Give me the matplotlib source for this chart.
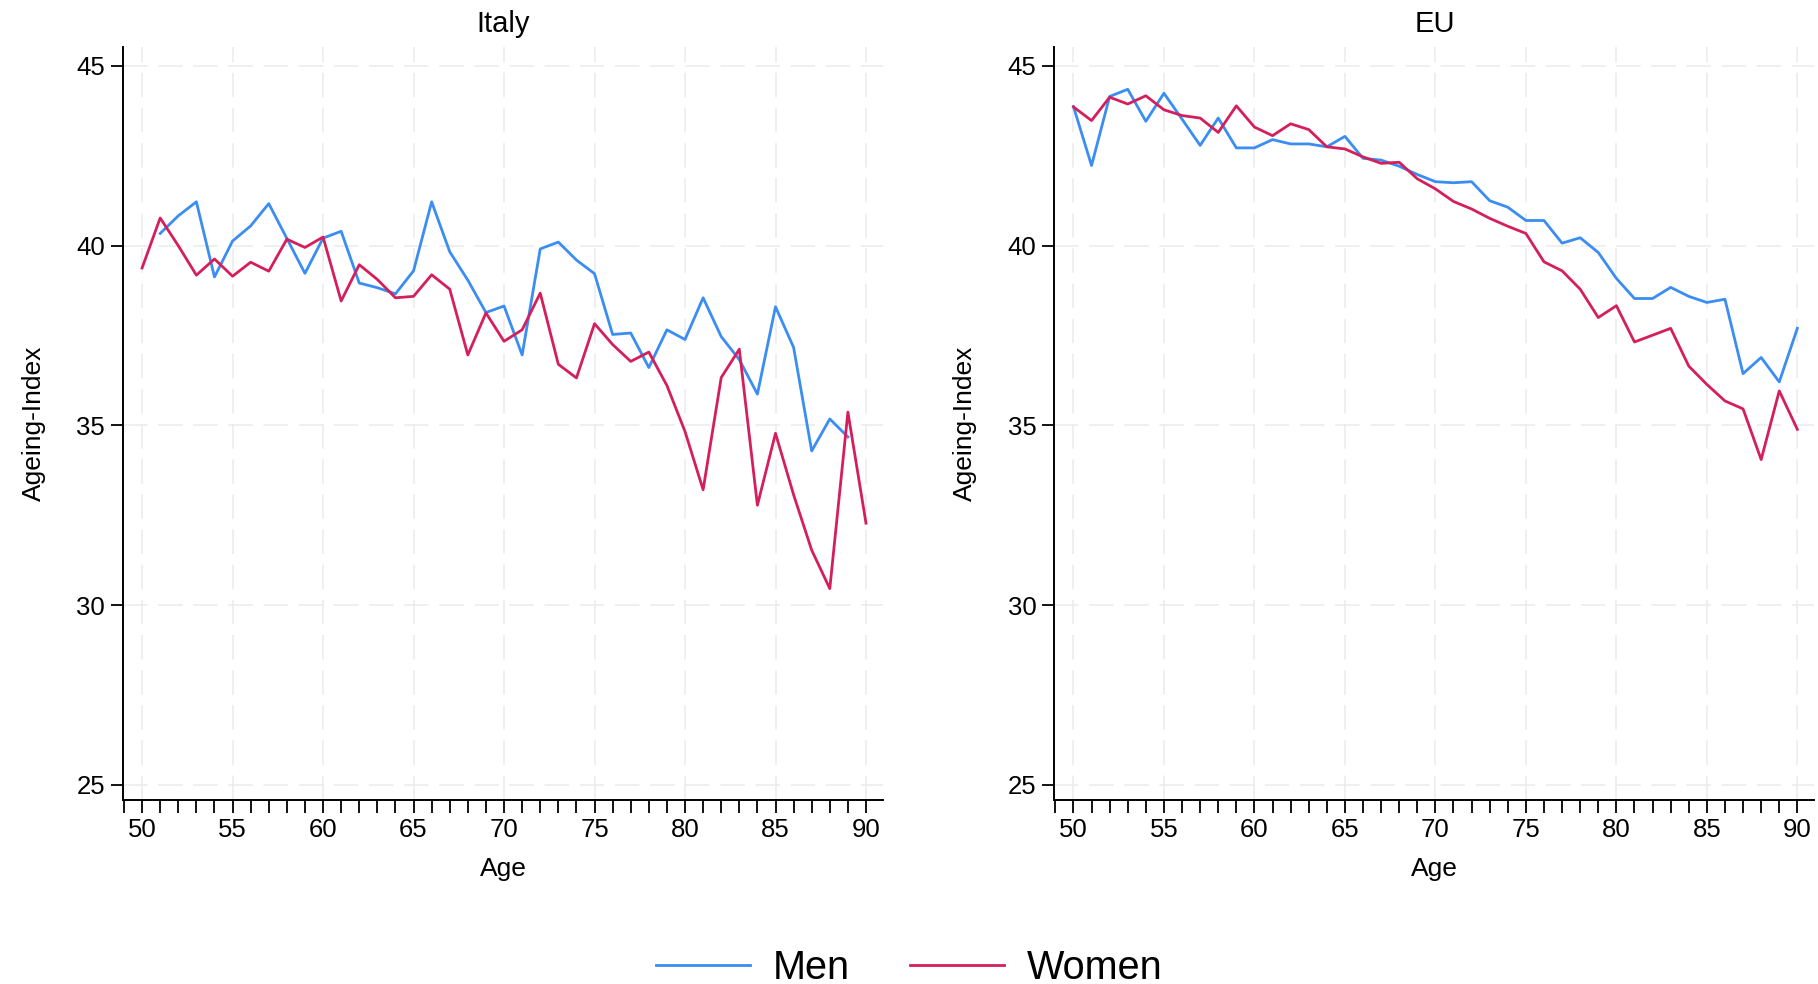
import numpy as np
import matplotlib
matplotlib.use("Agg")
import matplotlib.pyplot as plt
from matplotlib.ticker import MultipleLocator

plt.rcParams['font.family'] = ['Liberation Sans', 'DejaVu Sans']

ages = list(range(50, 91))

italy_men = [np.nan, 40.34, 40.83, 41.22, 39.13, 40.13, 40.55, 41.17, 40.20, 39.23,
             40.21, 40.40, 38.96, 38.83, 38.66, 39.30, 41.22, 39.83, 39.04, 38.14,
             38.32, 36.96, 39.91, 40.10, 39.60, 39.22, 37.53, 37.57, 36.61, 37.66,
             37.39, 38.55, 37.47, 36.83, 35.87, 38.30, 37.17, 34.29, 35.18, 34.68,
             np.nan]
italy_women = [39.38, 40.77, 40.00, 39.18, 39.63, 39.15, 39.54, 39.29, 40.18, 39.95,
               40.24, 38.46, 39.47, 39.06, 38.55, 38.59, 39.19, 38.79, 36.96, 38.13,
               37.34, 37.66, 38.68, 36.70, 36.32, 37.83, 37.25, 36.78, 37.04, 36.11,
               34.83, 33.21, 36.33, 37.12, 32.78, 34.78, 33.07, 31.53, 30.46, 35.37,
               32.28]
eu_men = [43.87, 42.23, 44.15, 44.35, 43.46, 44.24, 43.52, 42.79, 43.55, 42.72,
          42.72, 42.95, 42.83, 42.83, 42.75, 43.04, 42.43, 42.38, 42.21, 41.98,
          41.78, 41.75, 41.78, 41.25, 41.07, 40.70, 40.70, 40.07, 40.22, 39.81,
          39.09, 38.53, 38.53, 38.84, 38.59, 38.42, 38.51, 36.44, 36.89, 36.21,
          37.70]
eu_women = [43.86, 43.48, 44.13, 43.94, 44.17, 43.78, 43.62, 43.55, 43.15, 43.89,
            43.30, 43.06, 43.39, 43.23, 42.75, 42.69, 42.47, 42.29, 42.32, 41.86,
            41.58, 41.23, 41.02, 40.76, 40.54, 40.34, 39.55, 39.30, 38.79, 38.00,
            38.33, 37.32, 37.51, 37.70, 36.65, 36.14, 35.68, 35.46, 34.05, 35.96,
            34.89]

panels = ["Italy", "EU"]
series_labels = ["Men", "Women"]
x_ticks = [50, 55, 60, 65, 70, 75, 80, 85, 90]
y_ticks = [25, 30, 35, 40, 45]

BLUE = "#3A8DF2"
RED = "#D41F5A"

fig = plt.figure(figsize=(18.18, 9.84), dpi=100)
ax1 = fig.add_axes([0.0677, 0.187, 0.418, 0.765])
ax2 = fig.add_axes([0.580, 0.187, 0.418, 0.765])

data = {"Italy": (italy_men, italy_women), "EU": (eu_men, eu_women)}

handles = []
for ax, name in zip([ax1, ax2], panels):
    men, women = data[name]
    h1, = ax.plot(ages, men, color=BLUE, lw=2.0, label=series_labels[0], zorder=3)
    h2, = ax.plot(ages, women, color=RED, lw=2.0, label=series_labels[1], zorder=3)
    handles = [h1, h2]
    ax.set_xlim(48.95, 90.94)
    ax.set_ylim(24.58, 45.52)
    ax.set_xticks(x_ticks)
    ax.set_yticks(y_ticks)
    ax.xaxis.set_minor_locator(MultipleLocator(1))
    ax.grid(True, which='major', color='#EBEBEB', lw=1.1, linestyle=(0, (16, 7)), zorder=0)
    for s in ['top', 'right']:
        ax.spines[s].set_visible(False)
    for s in ['left', 'bottom']:
        ax.spines[s].set_linewidth(1.4)
        ax.spines[s].set_color('black')
    ax.tick_params(axis='both', which='both', direction='out', length=9, width=1.3,
                   labelsize=18.5, colors='black', pad=4)
    ax.set_title(name, fontsize=21, pad=11)
    ax.set_xlabel("Age", fontsize=19, labelpad=11)
    ax.set_ylabel("Ageing-Index", fontsize=19, labelpad=22)

fig.legend(handles, series_labels, loc='center', bbox_to_anchor=(0.5, 0.016),
           ncol=2, frameon=False, fontsize=28.5, handlelength=2.37, handletextpad=0.58,
           columnspacing=1.52)

fig.savefig("out.png", dpi=100)
